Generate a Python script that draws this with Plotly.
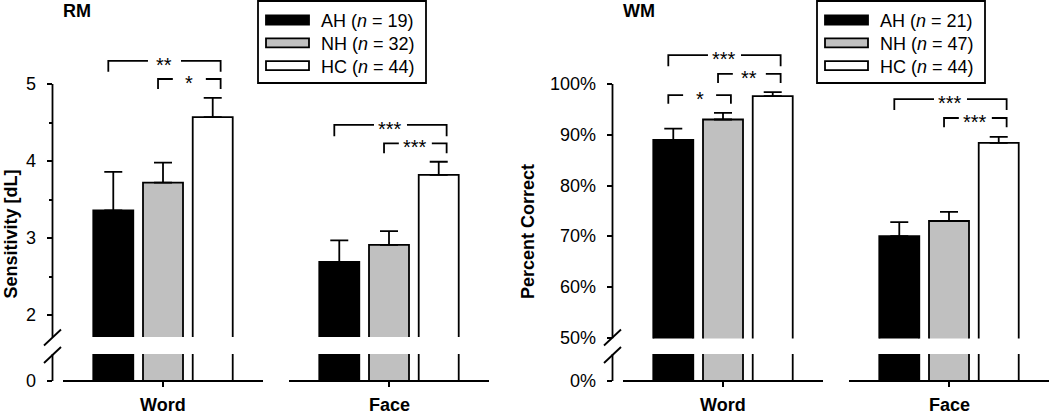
import plotly.graph_objects as go

# ---------------- data ----------------
categories = ["Word", "Face"]
groups = ["AH", "NH", "HC"]
group_colors = ["#000000", "#c0c0c0", "#ffffff"]

rm_n = [19, 32, 44]
rm_mean_word = [3.36, 3.72, 4.57]
rm_mean_face = [2.69, 2.91, 3.82]
rm_err_word = [0.50, 0.26, 0.25]
rm_err_face = [0.28, 0.18, 0.17]

wm_n = [21, 47, 44]
wm_mean_word = [89.0, 93.0, 97.6]
wm_mean_face = [70.0, 73.0, 88.4]
wm_err_word = [2.2, 1.3, 0.8]
wm_err_face = [2.8, 1.8, 1.2]

rm_ticks = [2, 3, 4, 5]
rm_minor_ticks = [2.5, 3.5, 4.5]
wm_ticks = [50, 60, 70, 80, 90, 100]

# significance brackets: (category, bar from, bar to, top level, leg end, label)
rm_brackets = [(0, 0, 2, 5.30, 5.16, "**"), (0, 1, 2, 5.065, 4.935, "*"),
               (1, 0, 2, 4.47, 4.32, "***"), (1, 1, 2, 4.23, 4.10, "***")]
wm_brackets = [(0, 0, 2, 105.7, 103.5, "***"), (0, 1, 2, 102.0, 100.2, "**"),
               (0, 0, 1, 97.8, 96.1, "*"), (1, 0, 2, 97.0, 94.9, "***"),
               (1, 1, 2, 93.3, 91.5, "***")]

# ---------------- layout helpers ----------------
W, H = 1050, 413
FONT = "Arial, Liberation Sans, sans-serif"
LW = 1.8
offsets = [-0.22, 0.0, 0.22]
bar_w = 0.177
px_per_cat = 226.0
LABEL_GAP = 14.5  # px between axis line and right edge of tick labels


def px(x):
    return x / W


def py(y):
    return 1 - y / H


fig = go.Figure()
shapes = []
annotations = []

panels = [
    dict(name="RM", xa="x", ya="y", yb="y2", xkey="xaxis", yakey="yaxis", ybkey="yaxis2",
         axis_px=52.5, right_px=500, cat0_px=163, top_val=5, px_per_unit=77.0,
         up_bottom_px=337, low_top_px=354, n=rm_n,
         word=rm_mean_word, face=rm_mean_face, ew=rm_err_word, ef=rm_err_face,
         brackets=rm_brackets, ticks=rm_ticks, minor=rm_minor_ticks, suffix="",
         ytitle="Sensitivity [dL]", ytitle_px=10, legend_px=258),
    dict(name="WM", xa="x2", ya="y3", yb="y4", xkey="xaxis2", yakey="yaxis3", ybkey="yaxis4",
         axis_px=612.5, right_px=1050, cat0_px=723, top_val=100, px_per_unit=5.075,
         up_bottom_px=338.5, low_top_px=354, n=wm_n,
         word=wm_mean_word, face=wm_mean_face, ew=wm_err_word, ef=wm_err_face,
         brackets=wm_brackets, ticks=wm_ticks, minor=[], suffix="%",
         ytitle="Percent Correct", ytitle_px=527.5, legend_px=817),
]

TOP_PX = 40
BASE_PX = 381

for p in panels:
    xr0 = -(p["cat0_px"] - p["axis_px"]) / px_per_cat
    xr1 = xr0 + (p["right_px"] - p["axis_px"]) / px_per_cat
    up_r0 = p["top_val"] - (p["up_bottom_px"] - 84) / p["px_per_unit"]
    up_r1 = p["top_val"] + (84 - TOP_PX) / p["px_per_unit"]
    low_r1 = (BASE_PX - p["low_top_px"]) / p["px_per_unit"]

    fig.layout[p["xkey"]] = dict(
        domain=[px(p["axis_px"]), px(p["right_px"])], range=[xr0, xr1],
        anchor=p["yb"], showgrid=False, zeroline=False, showline=False,
        tickmode="array", tickvals=[0, 1], showticklabels=False,
        ticks="outside", ticklen=5, tickwidth=LW, tickcolor="black")
    fig.layout[p["yakey"]] = dict(
        domain=[py(p["up_bottom_px"]), py(TOP_PX)], range=[up_r0, up_r1],
        anchor=p["xa"], showgrid=False, zeroline=False, showline=False,
        tickmode="array", tickvals=p["ticks"], showticklabels=False,
        ticks="outside", ticklen=5, tickwidth=LW, tickcolor="black",
        minor=dict(tickvals=p["minor"], ticks="outside", ticklen=3,
                   tickwidth=LW, tickcolor="black") if p["minor"] else None)
    fig.layout[p["ybkey"]] = dict(
        domain=[py(BASE_PX), py(p["low_top_px"])], range=[0, low_r1],
        anchor=p["xa"], showgrid=False, zeroline=False, showline=False,
        tickmode="array", tickvals=[0], showticklabels=False,
        ticks="outside", ticklen=5, tickwidth=LW, tickcolor="black")

    # y tick labels
    for ax_ref, vals in ((p["ya"], p["ticks"]), (p["yb"], [0])):
        for t in vals:
            annotations.append(dict(x=px(p["axis_px"] - LABEL_GAP), y=t, xref="paper",
                                    yref=ax_ref, text="%g%s" % (t, p["suffix"]),
                                    showarrow=False, xanchor="right", yanchor="middle",
                                    font=dict(family=FONT, size=18, color="black")))
    # category labels
    for i, c in enumerate(categories):
        annotations.append(dict(x=i, y=py(405), xref=p["xa"], yref="paper",
                                text="<b>%s</b>" % c, showarrow=False,
                                xanchor="center", yanchor="middle",
                                font=dict(family=FONT, size=18, color="black")))

    # bars (upper and lower segments)
    for g in range(3):
        xs = [i + offsets[g] for i in range(len(categories))]
        ys = [p["word"][g], p["face"][g]]
        es = [p["ew"][g], p["ef"][g]]
        common = dict(x=xs, y=ys, width=[bar_w] * 2, xaxis=p["xa"],
                      marker=dict(color=group_colors[g], line=dict(color="black", width=LW)),
                      showlegend=False, hoverinfo="skip")
        fig.add_trace(go.Bar(yaxis=p["ya"], error_y=dict(type="data", symmetric=False, array=es,
                                                         arrayminus=[0, 0], color="black",
                                                         thickness=LW, width=9), **common))
        fig.add_trace(go.Bar(yaxis=p["yb"], **common))

    # y-axis lines (broken)
    shapes.append(dict(type="line", xref=p["xa"] + " domain", yref=p["ya"], x0=0, x1=0,
                       y0=up_r0, y1=p["top_val"], line=dict(color="black", width=LW)))
    shapes.append(dict(type="line", xref=p["xa"] + " domain", yref=p["yb"], x0=0, x1=0,
                       y0=0, y1=low_r1, line=dict(color="black", width=LW)))
    # break marks
    for cy in (337.5, 355):
        shapes.append(dict(type="line", xref="paper", yref="paper",
                           x0=px(p["axis_px"] - 8.5), y0=py(cy + 8),
                           x1=px(p["axis_px"] + 8.5), y1=py(cy - 8),
                           line=dict(color="black", width=LW)))
    # x-axis segments, one per category
    for i in range(len(categories)):
        shapes.append(dict(type="line", xref=p["xa"], yref=p["yb"] + " domain",
                           x0=i - 0.4425, x1=i + 0.4425, y0=0, y1=0,
                           line=dict(color="black", width=LW)))

    # significance brackets
    gap = 16.5 / px_per_cat
    for (c, b0, b1, top, leg, lab) in p["brackets"]:
        xl = c + offsets[b0] - 0.022
        xr = c + offsets[b1] + 0.035
        xm = (xl + xr) / 2
        ln = dict(color="black", width=LW)
        shapes.append(dict(type="path", xref=p["xa"], yref=p["ya"],
                           path="M%f,%f L%f,%f L%f,%f" % (xl, leg, xl, top, xm - gap, top),
                           line=ln))
        shapes.append(dict(type="path", xref=p["xa"], yref=p["ya"],
                           path="M%f,%f L%f,%f L%f,%f" % (xm + gap, top, xr, top, xr, leg),
                           line=ln))
        annotations.append(dict(x=xm, y=top, xref=p["xa"], yref=p["ya"], text=lab,
                                showarrow=False, yshift=-4,
                                font=dict(family=FONT, size=20, color="black")))

    # panel title
    annotations.append(dict(x=px(p["axis_px"] + 8), y=py(11), xref="paper", yref="paper",
                            text="<b>%s</b>" % p["name"], showarrow=False, xanchor="left",
                            yanchor="middle", font=dict(family=FONT, size=18, color="black")))
    # y title
    annotations.append(dict(x=px(p["ytitle_px"]), y=py(301), xref="paper", yref="paper",
                            text="<b>%s</b>" % p["ytitle"], showarrow=False, textangle=-90,
                            xanchor="center", yanchor="bottom",
                            font=dict(family=FONT, size=18, color="black")))

    # legend box
    lx = p["legend_px"]
    shapes.append(dict(type="rect", xref="paper", yref="paper", x0=px(lx), x1=px(lx + 168),
                       y0=py(83), y1=py(1), line=dict(color="black", width=LW),
                       fillcolor="white"))
    for g in range(3):
        cy = 20 + 22.8 * g
        shapes.append(dict(type="rect", xref="paper", yref="paper", x0=px(lx + 8),
                           x1=px(lx + 51), y0=py(cy + 4.5), y1=py(cy - 4.5),
                           fillcolor=group_colors[g], line=dict(color="black", width=LW)))
        annotations.append(dict(x=px(lx + 61), y=py(cy + 1), xref="paper", yref="paper",
                                text="%s (<i>n</i> = %d)" % (groups[g], p["n"][g]),
                                showarrow=False, xanchor="left", yanchor="middle",
                                font=dict(family=FONT, size=18, color="black")))

fig.update_layout(width=W, height=H, margin=dict(l=0, r=0, t=0, b=0),
                  plot_bgcolor="white", paper_bgcolor="white", barmode="overlay",
                  shapes=shapes, annotations=annotations, showlegend=False)
fig.write_html("out.html", config={"displayModeBar": False},
               post_script="document.body.style.margin='0px';"
                           "document.body.style.overflow='hidden';")
